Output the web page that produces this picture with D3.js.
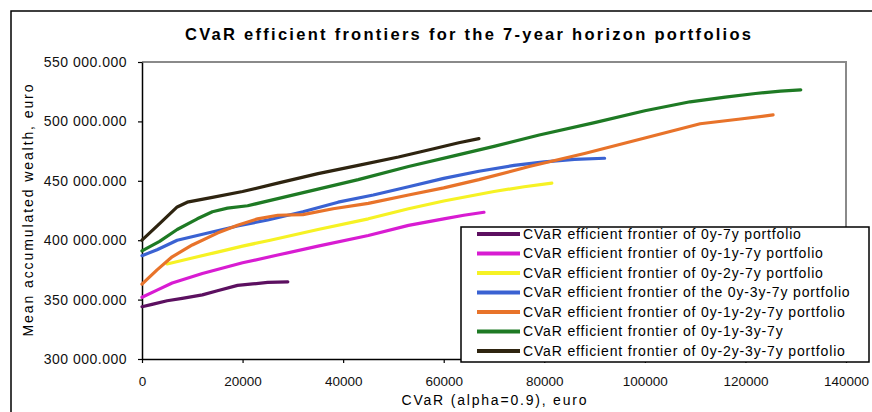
<!DOCTYPE html>
<html>
<head>
<meta charset="utf-8">
<script src="https://cdn.jsdelivr.net/npm/d3@7"></script>
<style>
  html, body { margin: 0; padding: 0; background: #fff; }
  svg { display: block; font-family: "Liberation Sans", Arial, sans-serif; }
</style>
</head>
<body>
<svg id="chart" width="872" height="412"></svg>
<script>
// Efficient frontier points: [CVaR (euro), mean accumulated wealth (million euro)]
const seriesNames = [
  "CVaR efficient frontier of 0y-7y portfolio",
  "CVaR efficient frontier of 0y-1y-7y portfolio",
  "CVaR efficient frontier of 0y-2y-7y portfolio",
  "CVaR efficient frontier of the 0y-3y-7y portfolio",
  "CVaR efficient frontier of 0y-1y-2y-7y portfolio",
  "CVaR efficient frontier of 0y-1y-3y-7y",
  "CVaR efficient frontier of 0y-2y-3y-7y portfolio"
];
const seriesColors = ["#5c1060", "#d81cd2", "#f6f224", "#3a62d2", "#e8732a", "#1e7a24", "#2e2410"];

const f0y7y = [[0,344],[2000,346],[5000,349],[8000,351],[12000,354],[15000,357.5],[19000,362],[22000,363.2],[25000,364.5],[29000,365]];
const f0y1y7y = [[0,352],[3000,358],[6000,364],[12000,372],[20000,381],[27000,387.5],[35000,395],[45000,404],[53000,412.5],[60000,418],[64000,421],[68000,423.5]];
const f0y2y7y = [[5000,380],[10000,385],[15000,390],[20000,395],[25500,400],[35000,409],[45000,418],[53000,426.5],[60000,433],[70000,441],[76000,445],[81500,448]];
const f0y3y7y = [[0,387],[3000,392],[7000,400],[11000,404],[15000,408],[19000,412],[25000,417],[32000,424],[39000,432],[46000,438],[53000,445],[60000,452],[67000,458],[74000,463],[80000,466],[86000,468],[92000,469]];
const f0y1y2y7y = [[0,363],[3000,375],[6000,386],[10000,396],[15000,406],[19000,412.5],[23000,418],[27000,421],[32000,421.5],[38000,426.5],[45000,431],[53000,438],[60000,444],[67000,451],[77000,462],[88000,473],[100000,486],[111000,498],[119000,502],[125500,505.5]];
const f0y1y3y7y = [[0,391],[3500,399],[7000,409],[11000,418],[14000,424],[17000,427],[21000,429],[27000,435],[35000,443],[43000,451],[53000,462],[62000,471],[70000,479],[79000,488.5],[90000,499],[100000,509],[109000,516.5],[116000,520.5],[122000,523.5],[127000,525.5],[131000,526.5]];
const f0y2y3y7y = [[0,400],[3500,414],[7000,428],[9000,432],[14000,436],[20000,441],[27000,448],[35000,456],[43000,463],[51000,470],[58000,477],[63000,482],[67000,485.5]];

const seriesData = [f0y7y, f0y1y7y, f0y2y7y, f0y3y7y, f0y1y2y7y, f0y1y3y7y, f0y2y3y7y];

const xTicks = [0, 20000, 40000, 60000, 80000, 100000, 120000, 140000];
const yTicks = [300, 350, 400, 450, 500, 550];
const yTickLabels = ["300 000.000", "350 000.000", "400 000.000", "450 000.000", "500 000.000", "550 000.000"];

const titleText = "CVaR efficient frontiers for the 7-year horizon portfolios";
const xLabel = "CVaR (alpha=0.9), euro";
const yLabel = "Mean accumulated wealth, euro";

const svg = d3.select("#chart");
const plot = { left: 142, right: 846, top: 62, bottom: 359 };

const x = d3.scaleLinear().domain([0, 140000]).range([plot.left, plot.right]);
const y = d3.scaleLinear().domain([300, 550]).range([plot.bottom, plot.top]);

// outer chart frame
svg.append("rect")
  .attr("x", 11).attr("y", 11).attr("width", 900).attr("height", 430)
  .attr("fill", "#fff").attr("stroke", "#000").attr("stroke-width", 1.5);

// plot area frame (top and right edges)
svg.append("path")
  .attr("d", `M${plot.left},${plot.top}H${plot.right}V${plot.bottom}`)
  .attr("fill", "none").attr("stroke", "#8a8a8a").attr("stroke-width", 2);

// title
svg.append("text")
  .attr("x", 468).attr("y", 40)
  .attr("text-anchor", "middle")
  .attr("font-size", 16.5).attr("font-weight", "bold")
  .attr("textLength", 566).attr("lengthAdjust", "spacing")
  .text(titleText);

// axes
const xAxis = d3.axisBottom(x).tickValues(xTicks).tickFormat(d3.format("d")).tickSize(4).tickSizeOuter(0);
const yAxis = d3.axisLeft(y).tickValues(yTicks).tickFormat((d, i) => yTickLabels[i]).tickSize(4).tickSizeOuter(0);

const gx = svg.append("g").attr("transform", `translate(0,${plot.bottom})`).call(xAxis);
const gy = svg.append("g").attr("transform", `translate(${plot.left},0)`).call(yAxis);

[gx, gy].forEach(g => {
  g.select(".domain").attr("stroke", "#000").attr("stroke-width", 1.5);
  g.selectAll(".tick line").attr("stroke", "#000").attr("stroke-width", 1.2);
  g.selectAll(".tick text").attr("fill", "#111")
    .attr("font-family", "\"Liberation Sans\", Arial, sans-serif");
});
gx.selectAll(".tick text").attr("font-size", 13.5).attr("dy", "1.45em");
gy.selectAll(".tick text").attr("font-size", 14).attr("letter-spacing", 0.5).attr("x", -15);

// axis titles
svg.append("text")
  .attr("x", (plot.left + plot.right) / 2).attr("y", 405)
  .attr("text-anchor", "middle").attr("font-size", 14)
  .attr("textLength", 185).attr("lengthAdjust", "spacing")
  .text(xLabel);

svg.append("text")
  .attr("transform", `translate(33,${(plot.top + plot.bottom) / 2}) rotate(-90)`)
  .attr("text-anchor", "middle").attr("font-size", 14)
  .attr("textLength", 252).attr("lengthAdjust", "spacing")
  .text(yLabel);

// frontier lines
const line = d3.line().x(d => x(d[0])).y(d => y(d[1]));
svg.append("g").selectAll("path")
  .data(seriesData)
  .join("path")
  .attr("d", line)
  .attr("fill", "none")
  .attr("stroke", (d, i) => seriesColors[i])
  .attr("stroke-width", 3.2)
  .attr("stroke-linejoin", "round")
  .attr("stroke-linecap", "round");

// legend
const legend = svg.append("g");
legend.append("rect")
  .attr("x", 461).attr("y", 227).attr("width", 408).attr("height", 135)
  .attr("fill", "#fff").attr("stroke", "#000").attr("stroke-width", 1.5);

const rows = legend.selectAll("g.row")
  .data(seriesNames)
  .join("g")
  .attr("class", "row")
  .attr("transform", (d, i) => `translate(0,${234 + i * 19.5})`);

rows.append("line")
  .attr("x1", 477).attr("x2", 520).attr("y1", 0).attr("y2", 0)
  .attr("stroke", (d, i) => seriesColors[i])
  .attr("stroke-width", 4);

rows.append("text")
  .attr("x", 523).attr("y", 0).attr("dy", "0.35em")
  .attr("font-size", 14).attr("letter-spacing", 0.85)
  .text(d => d);
</script>
</body>
</html>
